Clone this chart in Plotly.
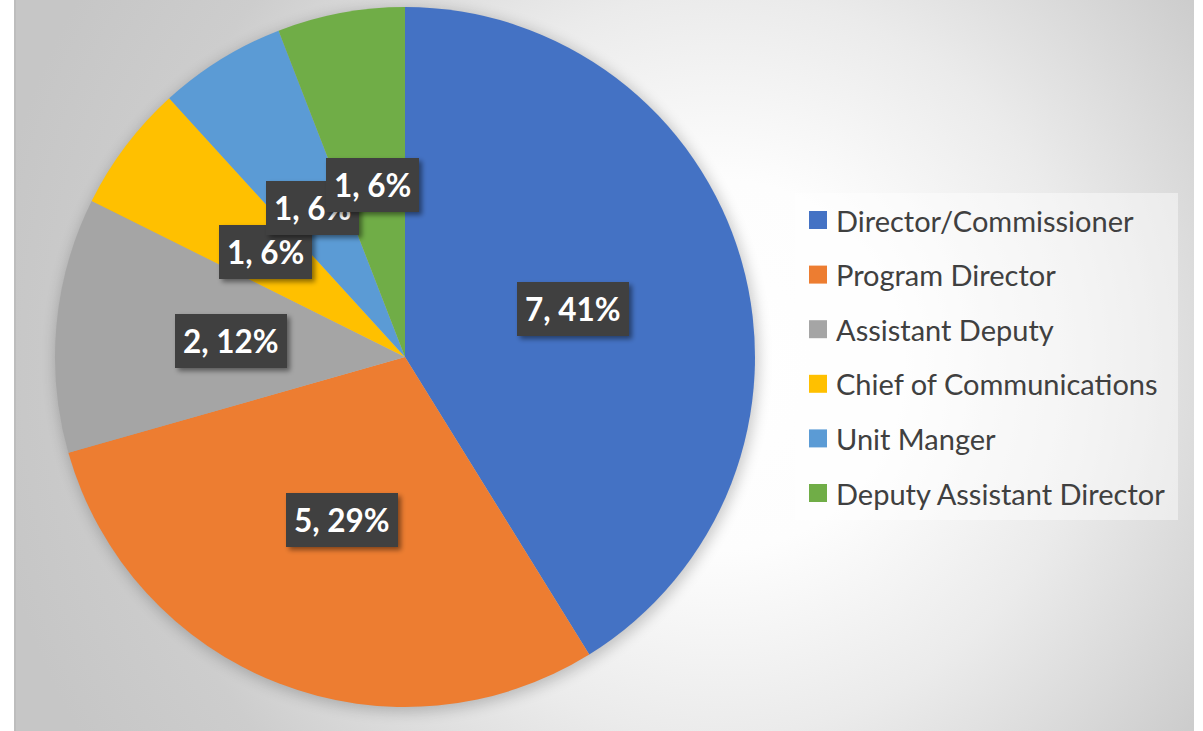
import base64
import math
import plotly.graph_objects as go

# ---- data ----
labels = ["Director/Commissioner", "Program Director", "Assistant Deputy",
          "Chief of Communications", "Unit Manger", "Deputy Assistant Director"]
values = [7, 5, 2, 1, 1, 1]
colors = ["#4472C4", "#ED7D31", "#A5A5A5", "#FFC000", "#5B9BD5", "#70AD47"]

# ---- layout constants (pixels) ----
W, H = 1203, 731
CX, CY, R = 405, 357, 350          # pie centre / radius
AREA_L, AREA_R = 15, 1194          # chart-area edges

def px(x):
    return x / W

def py(y):
    return 1 - y / H

# background: radial gradient + soft pie shadow (pure decoration)
aw = AREA_R - AREA_L
svg = f"""<svg xmlns='http://www.w3.org/2000/svg' width='{aw}' height='{H}' viewBox='0 0 {aw} {H}'>
<defs>
<radialGradient id='g' gradientUnits='userSpaceOnUse' cx='{720-AREA_L}' cy='365' r='740'>
<stop offset='0' stop-color='#ffffff'/>
<stop offset='0.25' stop-color='#fdfdfd'/>
<stop offset='0.5' stop-color='#ebebeb'/>
<stop offset='0.8' stop-color='#cdcdcd'/>
<stop offset='1' stop-color='#c6c6c6'/>
</radialGradient>
<filter id='b' x='-20%' y='-20%' width='140%' height='140%'><feGaussianBlur stdDeviation='7'/></filter>
</defs>
<rect width='{aw}' height='{H}' fill='url(#g)'/>
<circle cx='{CX-AREA_L+2}' cy='{CY+3}' r='{R+2}' fill='#000' opacity='0.2' filter='url(#b)'/>
</svg>"""
src = "data:image/svg+xml;base64," + base64.b64encode(svg.encode()).decode()

fig = go.Figure()
fig.add_trace(go.Pie(
    labels=labels, values=values, sort=False, direction="clockwise", rotation=0,
    marker=dict(colors=colors, line=dict(width=0)),
    textinfo="none", hoverinfo="label+value+percent", showlegend=False,
    domain=dict(x=[px(CX - R), px(CX + R)], y=[py(CY + R), py(CY - R)]),
))

annotations = []
shapes = []

# data labels, positioned at half radius along each slice's mid-angle
total = sum(values)
cum = 0
for lab, v in zip(labels, values):
    mid = (cum + v / 2) / total * 2 * math.pi
    cum += v
    lx = CX + 0.5 * R * math.sin(mid)
    ly = CY - 0.5 * R * math.cos(mid)
    txt = f"{v}, {round(100 * v / total)}%"
    annotations.append(dict(
        x=px(lx), y=py(ly), xref="paper", yref="paper", text=txt,
        showarrow=False, xanchor="center", yanchor="middle",
        borderpad=8, borderwidth=0,
        font=dict(family="Lato", size=31.5, color="white", weight="bold"),
        bgcolor="#404040",
    ))

# legend (drawn manually to match the spacing)
LG_L, LG_R, LG_T, LG_B = 795, 1178, 193, 520
shapes.append(dict(type="rect", xref="paper", yref="paper",
                   x0=px(LG_L), x1=px(LG_R), y0=py(LG_B), y1=py(LG_T),
                   fillcolor="rgba(255,255,255,0.45)", line=dict(width=0), layer="below"))
row0, step = 220, 54.6
for i, (lab, c) in enumerate(zip(labels, colors)):
    yc = row0 + i * step
    shapes.append(dict(type="rect", xref="paper", yref="paper",
                       x0=px(809), x1=px(827), y0=py(yc + 9), y1=py(yc - 9),
                       fillcolor=c, line=dict(width=0)))
    annotations.append(dict(
        x=px(834), y=py(yc), xref="paper", yref="paper", text=lab, showarrow=False,
        xanchor="left", yanchor="middle",
        font=dict(family="Lato", size=29, color="#404040"),
    ))

# chart-area left edge line
shapes.append(dict(type="line", xref="paper", yref="paper",
                   x0=px(AREA_L), x1=px(AREA_L), y0=0, y1=1,
                   line=dict(color="#bdbdbd", width=2)))

fig.update_layout(
    width=W, height=H, margin=dict(l=0, r=0, t=0, b=0),
    paper_bgcolor="white", plot_bgcolor="white",
    images=[dict(source=src, xref="paper", yref="paper", x=px(AREA_L), y=1,
                 sizex=aw / W, sizey=1, xanchor="left", yanchor="top",
                 sizing="stretch", layer="below")],
    shapes=shapes, annotations=annotations,
)

post_js = """
document.body.style.margin='0';
document.body.style.overflow='hidden';
try {
  var ns='http://www.w3.org/2000/svg';
  var svgEl=document.querySelector('.main-svg');
  var defs=document.createElementNS(ns,'defs');
  var f=document.createElementNS(ns,'filter');
  f.setAttribute('id','lblshadow');
  f.setAttribute('x','-20%'); f.setAttribute('y','-20%');
  f.setAttribute('width','150%'); f.setAttribute('height','150%');
  var ds=document.createElementNS(ns,'feDropShadow');
  ds.setAttribute('dx','3'); ds.setAttribute('dy','3');
  ds.setAttribute('stdDeviation','2.5');
  ds.setAttribute('flood-color','#000'); ds.setAttribute('flood-opacity','0.45');
  f.appendChild(ds); defs.appendChild(f); svgEl.insertBefore(defs, svgEl.firstChild);
  document.querySelectorAll('.annotation rect.bg').forEach(function(r){
    var op=parseFloat(r.style.fillOpacity);
    if(!isNaN(op) && op>0){ r.setAttribute('filter','url(#lblshadow)'); }
  });
} catch(e) {}
"""

fig.write_html("out.html", config={"displayModeBar": False}, post_script=post_js)
